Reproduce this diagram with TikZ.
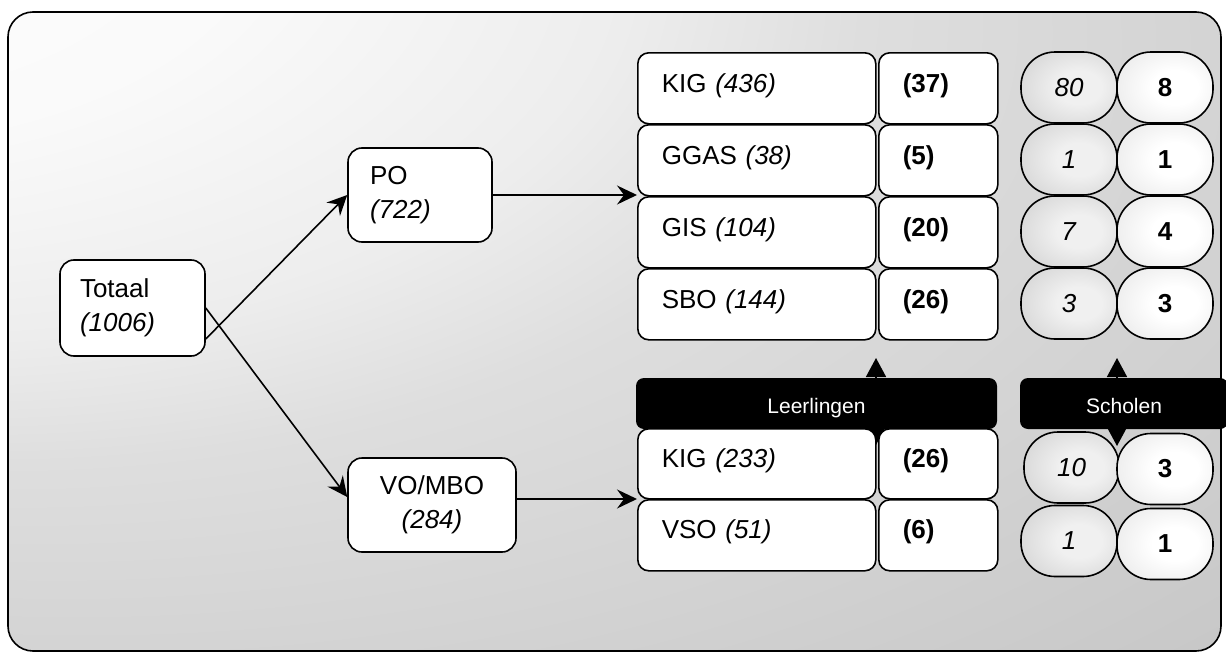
\documentclass[tikz,border=0pt]{standalone}
\usepackage{fontspec}
\setmainfont{Liberation Sans}
\usetikzlibrary{arrows.meta}
\pgfdeclareradialshading{bgshade}{\pgfpoint{-40bp}{40bp}}{%
  color(0bp)=(white); color(18bp)=(white!98!black); color(29bp)=(white!93!black);
  color(36bp)=(white!87!black); color(62bp)=(white!77!black); color(75bp)=(white!75!black);
  color(100bp)=(white!75!black)}
\pgfdeclareradialshading{pillshadeL}{\pgfpoint{6bp}{0bp}}{%
  color(0bp)=(white!94!black); color(12bp)=(white!94!black); color(50bp)=(white!76!black);
  color(100bp)=(white!76!black)}
\pgfdeclareradialshading{pillshadeR}{\pgfpoint{6bp}{0bp}}{%
  color(0bp)=(white); color(12bp)=(white); color(50bp)=(white!86!black);
  color(100bp)=(white!86!black)}
\pgfdeclarelayer{back}
\pgfdeclarelayer{mid}
\pgfsetlayers{back,mid,main}
\tikzset{
  myfont/.style={font=\fontsize{26}{34}\selectfont},
  box/.style={myfont, draw, line width=1.6pt, rounded corners=14pt, fill=white, inner sep=0pt},
  cell/.style={box, rounded corners=11pt, anchor=north west, inner xsep=24pt, inner ysep=0pt, text height=40pt, align=left},
  bar/.style={fill=black, text=white, rounded corners=8pt, inner sep=0pt, minimum height=51pt,
    font=\fontsize{21}{25}\selectfont, text height=19pt, text depth=0pt},
  pill/.style={myfont, draw, line width=1.6pt, rounded corners=34pt, inner sep=0pt, minimum width=96pt, minimum height=71pt},
  pillL/.style={pill, shade, shading=pillshadeL},
  pillR/.style={pill, shade, shading=pillshadeR},
  conn/.style={line width=1.6pt, -{Stealth[length=20pt, width=19pt, inset=7pt]}},
  dbl/.style={line width=1.6pt, {Triangle[length=19pt, width=20pt]}-{Triangle[length=19pt, width=20pt]}},
}
\begin{document}
\begin{tikzpicture}[x=1pt, y=-1pt]
\useasboundingbox (0,0) rectangle (1226,653);
\begin{pgfonlayer}{back}
\shade[shading=bgshade, rounded corners=25pt] (8,12) rectangle (1221,651);
\draw[line width=1.6pt, rounded corners=25pt] (8,12) rectangle (1221,651);
\end{pgfonlayer}

% left boxes
\node[box, minimum width=145pt, minimum height=96pt, text width=105pt, inner xsep=20pt, align=left] (tot) at (132.5,308) {Totaal\\\textit{(1006)}};
\node[box, minimum width=144pt, minimum height=94pt, text width=100pt, inner xsep=22pt, align=left] (po) at (420,195) {PO\\\textit{(722)}};
\node[box, minimum width=168pt, minimum height=94pt, align=center] (vo) at (432,505) {VO/MBO\\\textit{(284)}};

% upper table
\node[cell, text width=190pt, text depth=31pt] (kig) at (637,52) {KIG \textit{(436)}};
\node[cell, text width=71pt, text depth=31pt] (nkig) at (878,52) {\textbf{(37)}};
\node[cell, text width=190pt, text depth=31pt] (ggas) at (637,124) {GGAS \textit{(38)}};
\node[cell, text width=71pt, text depth=31pt] (nggas) at (878,124) {\textbf{(5)}};
\node[cell, text width=190pt, text depth=31pt] (gis) at (637,196) {GIS \textit{(104)}};
\node[cell, text width=71pt, text depth=31pt] (ngis) at (878,196) {\textbf{(20)}};
\node[cell, text width=190pt, text depth=31pt] (sbo) at (637,268) {SBO \textit{(144)}};
\node[cell, text width=71pt, text depth=31pt] (nsbo) at (878,268) {\textbf{(26)}};

% upper pills
\node[pillL] (s1) at (1069,87.5) {\textit{80}};
\node[pillR] (b1) at (1165,87.5) {\textbf{8}};
\node[pillL] (s2) at (1069,159.5) {\textit{1}};
\node[pillR] (b2) at (1165,159.5) {\textbf{1}};
\node[pillL] (s3) at (1069,231.5) {\textit{7}};
\node[pillR] (b3) at (1165,231.5) {\textbf{4}};
\node[pillL] (s4) at (1069,303.5) {\textit{3}};
\node[pillR] (b4) at (1165,303.5) {\textbf{3}};

% double arrows (behind)
\coordinate (lt) at (876,358);
\coordinate (lb) at (876,445);
\coordinate (st) at (1117,358);
\coordinate (sb) at (1117,446);
\begin{pgfonlayer}{mid}
\draw[dbl] (lb) -- (lt);
\draw[dbl] (sb) -- (st);
\end{pgfonlayer}

% bars
\node[bar, minimum width=361pt] (leer) at (816.5,403.5) {Leerlingen};
\node[bar, minimum width=208pt] (schol) at (1124,403.5) {Scholen};

% lower table
\node[cell, text width=190pt, text height=39pt, text depth=31pt] (kig2) at (637,428) {KIG \textit{(233)}};
\node[cell, text width=71pt, text height=39pt, text depth=31pt] (nkig2) at (878,428) {\textbf{(26)}};
\node[cell, text width=190pt, text height=39pt, text depth=32pt] (vso) at (637,499) {VSO \textit{(51)}};
\node[cell, text width=71pt, text height=39pt, text depth=32pt] (nvso) at (878,499) {\textbf{(6)}};

% lower pills
\node[pillL, minimum width=95pt] (s5) at (1071.5,467.5) {\textit{10}};
\node[pillR] (b5) at (1165,469) {\textbf{3}};
\node[pillL] (s6) at (1069,541) {\textit{1}};
\node[pillR] (b6) at (1165,544) {\textbf{1}};

% connectors
\draw[conn] ([yshift=-31pt]tot.east) -- (po.west);
\draw[conn] (tot.east) -- ([yshift=8pt]vo.west);
\draw[conn] (po.east) -- (po.east -| gis.north west);
\draw[conn] (vo.east |- vso.north west) -- (vso.north west);
\end{tikzpicture}
\end{document}
